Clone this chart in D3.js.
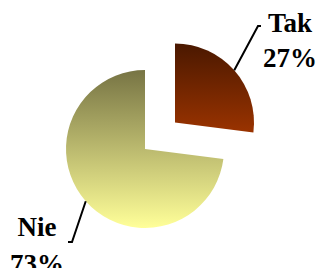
<!DOCTYPE html>
<html lang="pl">
<head>
<meta charset="utf-8">
<title>Tak / Nie</title>
<script src="https://d3js.org/d3.v7.min.js"></script>
<style>
  body { margin: 0; background: #fff; }
  text { font-family: "Liberation Serif", "Times New Roman", serif; font-weight: bold; fill: #000; }
</style>
</head>
<body>
<script>
var categories = ["Tak", "Nie"];
var values = [27, 73];
var labels = ["27%", "73%"];
var topColors = ["#4a1800", "#777444"];
var bottomColors = ["#9a3300", "#ffff99"];
var exploded = [true, false];

var w = 320, h = 268;
var cx = 145, cy = 149, r = 79, explode = 40;

var svg = d3.select("body").append("svg")
    .attr("width", w)
    .attr("height", h);

var pie = d3.pie().sort(null).value(d => d);
var arcs = pie(values);
var arc = d3.arc().innerRadius(0).outerRadius(r);
var edge = d3.arc().innerRadius(r).outerRadius(r);

var defs = svg.append("defs");
categories.forEach(function(c, i) {
  var g = defs.append("linearGradient")
      .attr("id", "grad" + i)
      .attr("x1", 0).attr("y1", 0).attr("x2", 0).attr("y2", 1);
  g.append("stop").attr("offset", "0%").attr("stop-color", topColors[i]);
  g.append("stop").attr("offset", "100%").attr("stop-color", bottomColors[i]);
});

function offset(d, i) {
  if (!exploded[i]) return [0, 0];
  var m = (d.startAngle + d.endAngle) / 2;
  return [Math.sin(m) * explode, -Math.cos(m) * explode];
}

var g = svg.append("g").attr("transform", "translate(" + cx + "," + cy + ")");

g.selectAll("path.slice")
  .data(arcs)
  .enter().append("path")
    .attr("class", "slice")
    .attr("transform", (d, i) => { var o = offset(d, i); return "translate(" + o[0] + "," + o[1] + ")"; })
    .attr("d", arc)
    .attr("fill", (d, i) => "url(#grad" + i + ")");

// label placement (relative to pie centre): x centre, first baseline, line gap
var labelPos = [[145, -117, 35], [-108, 87, 37]];
// elbow of leader line and short tail, relative to the label
var elbow = [[-32, -6, 3], [35, 6, -4]];

arcs.forEach(function(d, i) {
  var o = offset(d, i);
  var s = edge.centroid(d);
  var start = [s[0] + o[0], s[1] + o[1]];
  var lp = labelPos[i];
  var e = [lp[0] + elbow[i][0], lp[1] + elbow[i][1]];
  g.append("path")
    .attr("d", d3.line()([start, e, [e[0] + elbow[i][2], e[1]]]))
    .attr("fill", "none")
    .attr("stroke", "#000")
    .attr("stroke-width", 2);
  var t = g.append("text")
    .attr("text-anchor", "middle")
    .attr("font-size", 27)
    .attr("x", lp[0])
    .attr("y", lp[1]);
  t.append("tspan").attr("x", lp[0]).text(categories[i]);
  t.append("tspan").attr("x", lp[0]).attr("dy", lp[2]).text(labels[i]);
});
</script>
</body>
</html>
